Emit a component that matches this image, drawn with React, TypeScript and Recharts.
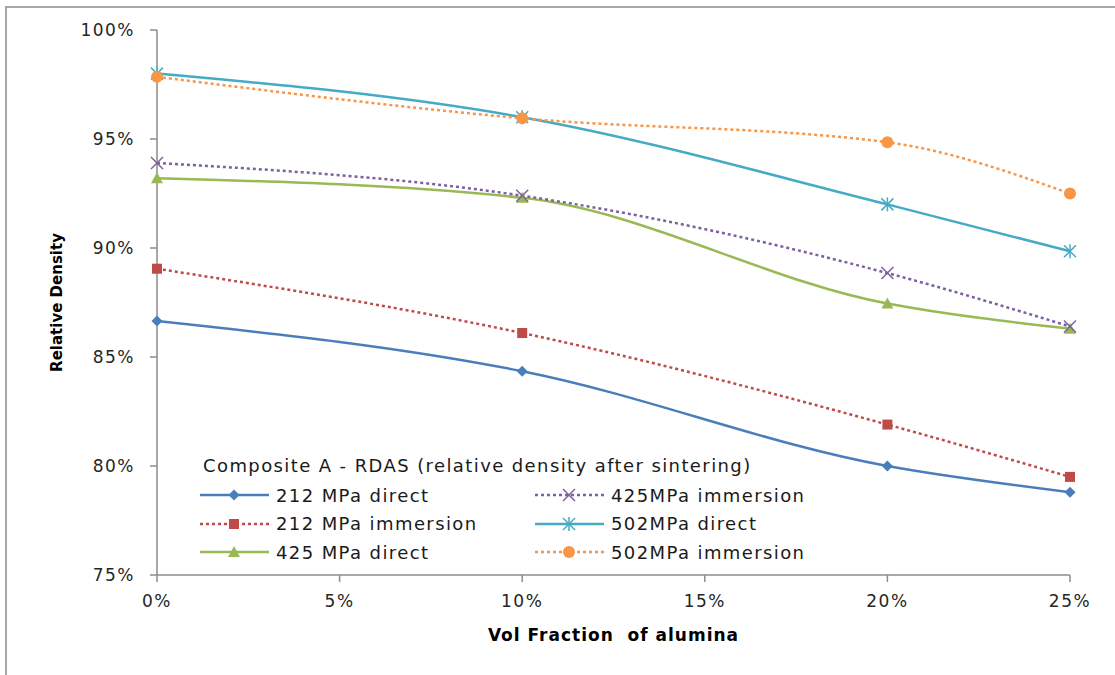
import React from 'react';
import { LineChart, Line, XAxis, YAxis } from 'recharts';

// volume fraction of alumina (%)
const fractions = [0, 10, 20, 25];

// relative density (%) per pressing condition
const direct212 = [86.65, 84.35, 80.0, 78.8];
const immersion212 = [89.05, 86.1, 81.9, 79.5];
const direct425 = [93.2, 92.3, 87.45, 86.3];
const immersion425 = [93.9, 92.4, 88.85, 86.4];
const direct502 = [98.0, 96.0, 92.0, 89.85];
const immersion502 = [97.85, 95.95, 94.85, 92.5];

const xTicks = [0, 5, 10, 15, 20, 25];
const yTicks = [75, 80, 85, 90, 95, 100];

const LEGEND_TITLE = 'Composite A - RDAS (relative density after sintering)';

type Shape = 'diamond' | 'square' | 'triangle' | 'cross' | 'star' | 'circle';

interface Series {
  key: string;
  name: string;
  color: string;
  dashed: boolean;
  shape: Shape;
  values: number[];
}

const SERIES: Series[] = [
  { key: 'd212', name: '212 MPa direct', color: '#4a7ebb', dashed: false, shape: 'diamond', values: direct212 },
  { key: 'i212', name: '212 MPa immersion', color: '#be4b48', dashed: true, shape: 'square', values: immersion212 },
  { key: 'd425', name: '425 MPa direct', color: '#98b954', dashed: false, shape: 'triangle', values: direct425 },
  { key: 'i425', name: '425MPa immersion', color: '#7d60a0', dashed: true, shape: 'cross', values: immersion425 },
  { key: 'd502', name: '502MPa direct', color: '#46aac5', dashed: false, shape: 'star', values: direct502 },
  { key: 'i502', name: '502MPa immersion', color: '#f79646', dashed: true, shape: 'circle', values: immersion502 },
];

const data = fractions.map((x, i) => {
  const row: Record<string, number> = { x };
  SERIES.forEach((s) => {
    row[s.key] = s.values[i];
  });
  return row;
});

const FONT = '"DejaVu Sans", "Noto Sans", sans-serif';
const AXIS = '#8c8c8c';

function Marker({ shape, color, cx, cy }: { shape: Shape; color: string; cx: number; cy: number }) {
  switch (shape) {
    case 'diamond':
      return <polygon points={`${cx},${cy - 5.5} ${cx + 5.5},${cy} ${cx},${cy + 5.5} ${cx - 5.5},${cy}`} fill={color} />;
    case 'square':
      return <rect x={cx - 5} y={cy - 5} width={10} height={10} fill={color} />;
    case 'triangle':
      return <polygon points={`${cx},${cy - 6} ${cx + 6},${cy + 5} ${cx - 6},${cy + 5}`} fill={color} />;
    case 'cross':
      return (
        <g stroke={color} strokeWidth={1.5}>
          <line x1={cx - 6} y1={cy - 6} x2={cx + 6} y2={cy + 6} />
          <line x1={cx - 6} y1={cy + 6} x2={cx + 6} y2={cy - 6} />
        </g>
      );
    case 'star':
      return (
        <g stroke={color} strokeWidth={1.5}>
          <line x1={cx - 6} y1={cy - 6} x2={cx + 6} y2={cy + 6} />
          <line x1={cx - 6} y1={cy + 6} x2={cx + 6} y2={cy - 6} />
          <line x1={cx} y1={cy - 7} x2={cx} y2={cy + 7} />
        </g>
      );
    default:
      return <circle cx={cx} cy={cy} r={6} fill={color} />;
  }
}

function LegendSample({ s }: { s: Series }) {
  return (
    <svg width={72} height={16} style={{ display: 'block' }}>
      <line
        x1={1}
        y1={8}
        x2={70}
        y2={8}
        stroke={s.color}
        strokeWidth={2.5}
        strokeDasharray={s.dashed ? '3 3' : undefined}
      />
      <Marker shape={s.shape} color={s.color} cx={35} cy={8} />
    </svg>
  );
}

// legend sits inside the plot, bottom-left, two columns under a title
function LegendBox() {
  const col1 = [SERIES[0], SERIES[1], SERIES[2]];
  const col2 = [SERIES[3], SERIES[4], SERIES[5]];
  const row = (s: Series) => (
    <div key={s.key} style={{ display: 'flex', alignItems: 'center', height: 28.5 }}>
      <LegendSample s={s} />
      <span style={{ marginLeft: 5 }}>{s.name}</span>
    </div>
  );
  return (
    <div
      style={{
        position: 'absolute',
        left: 199,
        top: 451,
        fontFamily: FONT,
        fontSize: 18,
        letterSpacing: 1.4,
        color: '#1a1a1a',
        whiteSpace: 'nowrap',
      }}
    >
      <div style={{ marginLeft: 4, height: 30, lineHeight: '30px' }}>{LEGEND_TITLE}</div>
      <div style={{ display: 'flex' }}>
        <div style={{ width: 335 }}>{col1.map(row)}</div>
        <div>{col2.map(row)}</div>
      </div>
    </div>
  );
}

export default function App() {
  return (
    <div style={{ position: 'absolute', left: 0, top: 0, width: 1115, height: 675, background: '#fff' }}>
      <div
        style={{
          position: 'absolute',
          left: 5,
          top: 6,
          right: 0,
          bottom: 0,
          borderLeft: '2px solid #a6a6a6',
          borderTop: '2px solid #a6a6a6',
        }}
      />
      <LineChart width={1115} height={675} data={data} margin={{ top: 30, right: 45, bottom: 0, left: 0 }}>
        <XAxis
          dataKey="x"
          type="number"
          domain={[0, 25]}
          ticks={xTicks}
          tickFormatter={(v: number) => `${v}%`}
          height={100}
          stroke={AXIS}
          strokeWidth={1.5}
          tickSize={7}
          tickMargin={13}
          tick={{ fill: '#262626', fontSize: 17, fontFamily: FONT, letterSpacing: 1.5 }}
          label={{
            value: 'Vol Fraction\u00a0 of alumina',
            position: 'insideTop',
            offset: 54,
            style: { fill: '#000', fontSize: 17, fontWeight: 'bold', fontFamily: FONT, letterSpacing: 1 },
          }}
        />
        <YAxis
          type="number"
          domain={[75, 100]}
          ticks={yTicks}
          tickFormatter={(v: number) => `${v}%`}
          width={157}
          stroke={AXIS}
          strokeWidth={1.5}
          tickSize={7}
          tickMargin={15}
          tick={{ fill: '#262626', fontSize: 17, fontFamily: FONT, letterSpacing: 1.5 }}
          label={{
            value: 'Relative Density',
            angle: -90,
            position: 'insideLeft',
            offset: 57,
            style: { textAnchor: 'middle', fill: '#000', fontSize: 15, fontWeight: 'bold', fontFamily: FONT },
          }}
        />
        {SERIES.map((s) => (
          <Line
            key={s.key}
            dataKey={s.key}
            name={s.name}
            type="monotone"
            stroke={s.color}
            strokeWidth={2.5}
            strokeDasharray={s.dashed ? '3 3' : undefined}
            isAnimationActive={false}
            dot={(p: any) => <Marker key={`${s.key}-${p.index}`} shape={s.shape} color={s.color} cx={p.cx} cy={p.cy} />}
            activeDot={false}
          />
        ))}
      </LineChart>
      <LegendBox />
    </div>
  );
}
